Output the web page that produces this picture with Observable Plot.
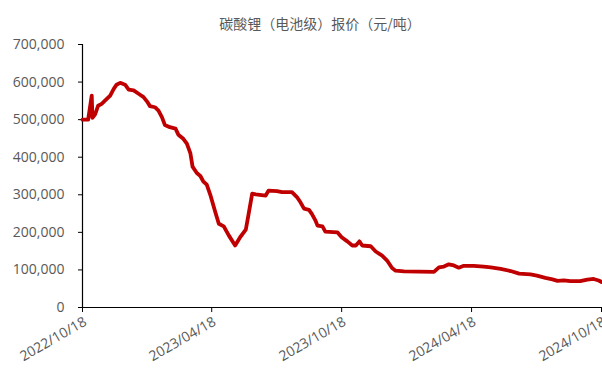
<!DOCTYPE html>
<html>
<head>
<meta charset="utf-8">
<script src="https://cdn.jsdelivr.net/npm/d3@7"></script>
<script src="https://cdn.jsdelivr.net/npm/@observablehq/plot@0.6"></script>
<style>
  html, body { margin: 0; padding: 0; background: #fff; }
  #wrap { position: relative; width: 602px; height: 376px; overflow: hidden; }
  #title { position: absolute; top: 13px; left: 0; width: 640px; text-align: center;
    font-family: "Noto Sans CJK SC", sans-serif; font-size: 14px; color: #595959; line-height: 20px; }
  #chart { position: absolute; top: 34px; left: 0; }
</style>
</head>
<body>
<div id="wrap">
  <div id="title">碳酸锂（电池级）报价（元/吨）</div>
  <div id="chart"></div>
</div>
<script>
const dates = [
  "2022-10-18","2022-10-26","2022-10-31","2022-11-01","2022-11-05","2022-11-09","2022-11-14","2022-11-19",
  "2022-11-26","2022-12-01","2022-12-05","2022-12-10","2022-12-17","2022-12-22","2022-12-29","2023-01-05",
  "2023-01-12","2023-01-17","2023-01-21","2023-01-28","2023-02-02","2023-02-07","2023-02-11","2023-02-18",
  "2023-02-26","2023-03-02","2023-03-09","2023-03-14","2023-03-19","2023-03-22","2023-03-28","2023-04-02",
  "2023-04-06","2023-04-11","2023-04-16","2023-04-23","2023-04-28","2023-05-05","2023-05-12","2023-05-21",
  "2023-05-28","2023-06-05","2023-06-09","2023-06-14","2023-06-19","2023-07-03","2023-07-07","2023-07-19",
  "2023-07-26","2023-08-09","2023-08-16","2023-08-21","2023-08-26","2023-09-02","2023-09-06","2023-09-11",
  "2023-09-14","2023-09-21","2023-09-25","2023-10-12","2023-10-18","2023-10-26","2023-11-02","2023-11-07",
  "2023-11-12","2023-11-16","2023-11-28","2023-12-05","2023-12-14","2023-12-21","2023-12-28","2024-01-02",
  "2024-01-14","2024-02-25","2024-03-03","2024-03-10","2024-03-17","2024-03-24","2024-03-31","2024-04-07",
  "2024-04-21","2024-05-05","2024-05-15","2024-05-29","2024-06-12","2024-06-24","2024-07-10","2024-07-19",
  "2024-07-31","2024-08-10","2024-08-17","2024-08-26","2024-09-04","2024-09-18","2024-09-28","2024-10-07",
  "2024-10-14","2024-10-18"
];
const prices = [
  500000,500000,564000,505000,515000,537000,542000,551000,
  564000,582000,593000,598000,593000,580000,578000,569000,
  560000,548000,536000,533000,524000,506000,486000,480000,
  476000,460000,449000,436000,410000,375000,358000,350000,
  336000,327000,300000,254000,223000,216000,192000,165000,
  187000,207000,249000,303000,301000,298000,311000,310000,
  307000,307000,294000,280000,263000,260000,249000,232000,
  218000,216000,202000,200000,187000,176000,165000,165000,
  176000,165000,163000,149000,138000,125000,105000,98000,
  96000,95000,107000,109000,115000,112000,106000,111000,
  111000,109000,107000,103000,97000,90000,88000,85000,
  79000,75000,71000,72000,70000,70000,74000,76000,
  72000,68000
];
const xTicks = ["2022-10-18","2023-04-18","2023-10-18","2024-04-18","2024-10-18"];
const yTicks = [0,100000,200000,300000,400000,500000,600000,700000];

const parse = d3.utcParse("%Y-%m-%d");
const data = dates.map((d, i) => ({date: parse(d), value: prices[i]}));
const xt = xTicks.map(parse);

const chart = Plot.plot({
  width: 602,
  height: 342,
  marginLeft: 82,
  marginRight: 1,
  marginTop: 10,
  marginBottom: 69,
  style: {fontFamily: "'Open Sans', sans-serif", fontSize: "14px", color: "#595959", background: "#fff"},
  x: {type: "utc", domain: [xt[0], xt[xt.length - 1]]},
  y: {domain: [0, 700000]},
  marks: [
    Plot.axisY({ticks: yTicks, tickFormat: d3.format(","), tickSize: 4, tickPadding: 14, stroke: "#000", fill: "#595959", label: null}),
    Plot.axisX({ticks: xt, tickFormat: () => "", tickSize: 5, stroke: "#000", label: null}),
    Plot.axisX({ticks: xt, tickFormat: d3.utcFormat("%Y/%m/%d"), tickSize: 0, tickPadding: 4, tickRotate: -30, dx: 3, dy: 9, fill: "#595959", label: null}),
    Plot.ruleX([xt[0]], {stroke: "#000", strokeWidth: 1.2}),
    Plot.ruleY([0], {stroke: "#000", strokeWidth: 1.2}),
    Plot.lineY(data, {x: "date", y: "value", stroke: "#C00000", strokeWidth: 3.8, strokeLinejoin: "round", strokeLinecap: "round"})
  ]
});
document.getElementById("chart").appendChild(chart);
</script>
</body>
</html>
